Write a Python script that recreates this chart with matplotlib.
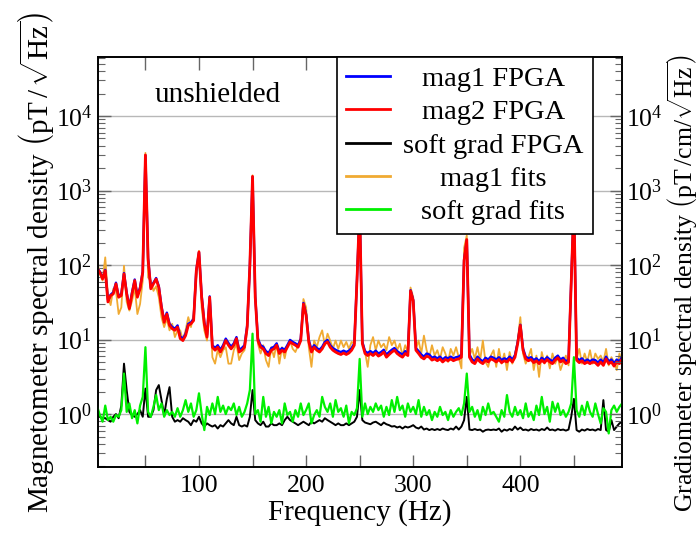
import numpy as np
import matplotlib
matplotlib.use("Agg")
import matplotlib.pyplot as plt
from matplotlib.ticker import LogLocator, MultipleLocator, FuncFormatter, NullFormatter

plt.rcParams['font.family'] = ['Liberation Serif', 'DejaVu Serif']
plt.rcParams['mathtext.fontset'] = 'custom'
plt.rcParams['mathtext.rm'] = 'Liberation Serif'
plt.rcParams['mathtext.it'] = 'Liberation Serif:italic'
plt.rcParams['mathtext.bf'] = 'Liberation Serif:bold'

# frequency bins (Hz), 2.5 Hz spacing
freq = np.arange(5.0, 495.1, 2.5)

# mag2 FPGA (pT/sqrt(Hz))
mag2_fpga = [
    88, 80, 65, 84, 32, 39, 41, 56, 37, 39, 76, 41, 26, 41, 62, 37, 48, 80, 3000, 120,
    48, 56, 65, 50, 27, 17, 22, 15.5, 14, 13.3, 14.7, 10.3, 9.7, 11.3, 15.5, 16.3, 18, 84, 150, 37,
    16.3, 10.8, 37, 7.9, 7.2, 7.9, 6.8, 7.9, 9.7, 8.4,
    7.5, 8.4, 10.3, 6.8, 7.2, 7.9, 14.7, 100, 1550, 37, 9.7, 7.9, 7.5, 6.5, 6.1, 7.2, 7.5, 8.4, 6.5, 7.2,
    6.8, 7.9, 9.3, 8.8, 8.4, 7.9, 9.7, 30, 21, 9.3, 6.8, 7.9, 7.2, 6.8, 7.5, 8.8, 9.3, 7.9, 7.2, 6.8,
    6.5, 6.3, 6.6, 6.3, 6.6, 7.2, 8.4, 62, 600,
    8.8, 6.5, 6.1, 6.5, 6.1, 6.6, 6.0, 6.3, 6.8, 5.8, 6.3, 6.8, 7.2, 6.5, 6.1, 5.8, 6.5, 6.1, 45, 33,
    7.2, 6.5, 5.8, 5.5, 6.0, 5.8, 5.3, 5.5, 5.2, 5.5, 5.0, 5.4, 5.2, 5.5, 5.2, 5.4, 5.5, 5.8, 115, 220,
    5.8, 5.0, 4.75, 5.5, 5.0, 4.75, 5.3, 5.0, 5.5,
    5.3, 5.0, 5.4, 4.9, 5.2, 5.0, 5.5, 5.0, 5.8, 8.8, 15.5, 7.2, 5.5, 5.2, 5.4, 4.9, 5.2, 4.75, 5.3, 4.9,
    5.4, 5.0, 4.75, 5.3, 5.7, 5.0, 5.3, 4.75, 5.0, 62, 700, 5.3, 4.9, 5.2, 4.75, 5.0, 4.75, 5.0, 4.9, 4.5,
    5.0, 4.5, 5.5, 4.75, 5.0, 4.4, 5.0, 4.75, 5.5,
]

# mag1 FPGA
mag1_fpga = [
    90, 82, 67, 86, 34, 40, 43, 58, 38, 41, 78, 43, 27, 43, 64, 39, 50, 82, 2950, 125,
    50, 58, 67, 52, 28, 18, 23, 16.3, 14.8, 14, 15.5, 11, 10.3, 12, 16.3, 17, 19, 86, 148, 39,
    17, 11.5, 38, 8.4, 7.7, 8.4, 7.3, 8.4, 10.3, 9,
    8, 8.9, 10.8, 7.3, 7.7, 8.4, 15.5, 98, 1520, 38, 10.3, 8.4, 8, 7, 6.6, 7.7, 8, 8.9, 7, 7.7,
    7.3, 8.4, 9.9, 9.3, 8.9, 8.4, 10.3, 31, 22, 9.9, 7.3, 8.4, 7.7, 7.3, 8, 9.3, 9.9, 8.4, 7.7, 7.3,
    7, 6.8, 7.1, 6.8, 7.1, 7.7, 8.9, 64, 590,
    9.3, 7, 6.6, 7, 6.6, 7.1, 6.5, 6.8, 7.3, 6.3, 6.8, 7.3, 7.7, 7, 6.6, 6.3, 7, 6.6, 46, 34,
    7.7, 7, 6.3, 5.9, 6.5, 6.3, 5.7, 5.9, 5.6, 5.9, 5.4, 5.8, 5.6, 5.9, 5.6, 5.8, 5.9, 6.3, 118, 215,
    6.3, 5.4, 5.1, 5.9, 5.4, 5.1, 5.7, 5.4, 5.9,
    5.7, 5.4, 5.8, 5.3, 5.6, 5.4, 5.9, 5.4, 6.2, 9.2, 15.8, 7.6, 5.9, 5.6, 5.8, 5.3, 5.6, 5.1, 5.7, 5.3,
    5.8, 5.4, 5.1, 5.7, 6.1, 5.4, 5.7, 5.1, 5.4, 63, 690, 5.7, 5.3, 5.6, 5.1, 5.4, 5.1, 5.4, 5.3, 4.9,
    5.4, 4.9, 5.9, 5.1, 5.4, 4.8, 5.4, 5.1, 5.9,
]

# mag1 fits
mag1_fits = [
    108, 76, 62, 127, 39, 29, 48, 45, 22, 27, 98, 32, 24.5, 33, 50, 22, 30, 62, 3200, 68,
    62, 45, 52, 37, 20, 14.7, 19, 13.3, 16.3, 10.8, 13.3, 13.3, 9.7, 13.3, 20, 14.7, 22, 68, 155, 27,
    13.3, 9.7, 35, 5.8, 4.75, 7.2, 5.8, 7.2, 7.9, 4.75,
    4.75, 7.2, 8.8, 5.3, 6.5, 7.2, 13.3, 93, 1600, 41, 8.8, 6.5, 8.4, 5.3, 4.3, 7.9, 5.8, 8.8, 4.75, 7.9,
    5.6, 8.4, 9.7, 7.5, 6.8, 8.4, 9.7, 35, 27, 7.9, 4.3, 9.7, 7.9, 10.8, 13.3, 8.4, 12, 9.7, 7.5, 9.7,
    7.5, 9.7, 7.9, 9.3, 7.5, 9.3, 8.8, 68, 650,
    9.7, 6.8, 4.3, 8.4, 10.8, 7.2, 9.7, 7.9, 8.8, 7.2, 10.8, 8.4, 9.7, 7.2, 8.8, 6.1, 8.4, 6.8, 50, 37,
    7.5, 9.7, 6.5, 11.3, 7.2, 5.8, 8.4, 6.1, 7.2, 5.5, 7.9, 6.5, 5.0, 7.5, 6.1, 7.9, 5.8, 4.1, 170, 250,
    6.1, 7.5, 5.5, 7.9, 5.3, 9.7, 5.0, 4.3, 6.1,
    7.2, 4.3, 7.5, 4.75, 6.5, 3.9, 6.8, 4.75, 6.1, 9.7, 20, 6.5, 4.75, 5.8, 7.5, 3.9, 6.1, 3.15, 6.8, 4.75,
    6.1, 4.1, 6.5, 4.75, 5.8, 3.9, 5.0, 6.1, 4.5, 62, 750, 5.5, 7.5, 4.75, 6.5, 5.0, 7.2, 4.75, 6.5, 5.5,
    6.1, 5.0, 7.5, 4.5, 5.8, 5.0, 3.9, 6.5, 4.75,
]

# soft grad FPGA (pT/cm/sqrt(Hz))
grad_fpga = [
    0.97, 0.92, 0.88, 0.88, 0.83, 0.79, 0.92, 1.0, 0.88, 1.3, 4.75, 2.1, 1.07, 0.97, 0.92, 1.0, 1.13, 0.92, 2.2, 0.92,
    0.92, 1.13, 2.1, 2.45, 1.54, 0.97, 1.6, 2.3, 0.92, 0.79, 0.83, 0.79, 0.88, 0.83, 0.79, 0.71, 0.83, 0.79, 0.92, 0.75,
    0.68, 0.75, 0.71, 0.68, 0.71, 0.64, 0.71, 0.68, 0.75, 0.83,
    0.75, 0.71, 0.92, 0.71, 0.68, 0.71, 0.68, 0.92, 2.1, 0.83, 0.75, 0.71, 0.79, 0.68, 0.68, 0.75, 0.71, 0.71, 0.75, 0.71,
    0.83, 0.92, 0.83, 0.79, 0.75, 0.71, 0.75, 0.79, 0.75, 0.71, 0.79, 0.75, 0.79, 0.83, 0.79, 0.88, 0.83, 0.79, 0.75, 0.71,
    0.75, 0.71, 0.71, 0.75, 0.71, 0.75, 0.79, 0.92, 2.1,
    0.83, 0.77, 0.75, 0.73, 0.77, 0.79, 0.75, 0.71, 0.77, 0.73, 0.71, 0.68, 0.69, 0.66, 0.68, 0.64, 0.68, 0.66, 0.68, 0.71,
    0.66, 0.64, 0.68, 0.62, 0.64, 0.61, 0.63, 0.61, 0.63, 0.61, 0.64, 0.62, 0.61, 0.64, 0.62, 0.68, 0.62, 0.68, 0.83, 1.7,
    0.62, 0.61, 0.63, 0.61, 0.62, 0.58, 0.61, 0.62, 0.61,
    0.62, 0.61, 0.64, 0.58, 0.62, 0.60, 0.63, 0.61, 0.68, 0.62, 0.66, 0.61, 0.62, 0.60, 0.63, 0.61, 0.62, 0.60, 0.63, 0.61,
    0.66, 0.61, 0.62, 0.60, 0.63, 0.61, 0.62, 0.60, 0.62, 0.92, 1.6, 0.61, 0.58, 0.62, 0.60, 0.63, 0.61, 0.62, 0.60, 0.63,
    0.61, 1.54, 0.61, 0.58, 0.83, 0.61, 0.68, 0.75, 0.79,
]

# soft grad fits
grad_fits = [
    1.25, 0.97, 0.79, 1.3, 0.83, 0.92, 0.79, 0.97, 0.92, 1.13, 3.5, 1.07, 1.39, 0.88, 1.13, 0.75, 1.3, 1.7, 7.9, 1.07,
    0.92, 1.25, 1.8, 1.13, 1.39, 0.92, 1.13, 0.97, 1.07, 0.92, 1.2, 0.92, 1.13, 1.54, 1.07, 1.39, 0.92, 1.13, 1.9, 1.0,
    0.61, 1.25, 0.97, 1.39, 1.0, 1.7, 1.07, 1.3, 1.0, 1.25,
    1.13, 1.39, 0.97, 1.25, 0.92, 1.07, 1.39, 2.1, 12, 1.0, 1.13, 0.79, 1.7, 0.92, 1.25, 0.75, 1.07, 0.92, 1.13, 0.75,
    1.39, 0.97, 1.07, 0.79, 1.13, 0.92, 1.39, 0.97, 1.13, 1.39, 0.75, 0.97, 1.13, 0.92, 1.7, 1.25, 1.07, 1.39, 0.92, 1.54,
    1.07, 1.2, 0.92, 1.3, 0.75, 1.07, 0.97, 1.2, 5.5,
    0.92, 1.39, 1.0, 1.25, 1.07, 1.39, 1.13, 1.3, 0.92, 1.25, 0.97, 1.54, 1.07, 1.7, 1.13, 1.3, 0.92, 1.39, 1.07, 1.25,
    1.0, 1.54, 0.92, 1.25, 0.97, 1.13, 0.83, 1.07, 0.92, 1.25, 0.97, 1.07, 0.83, 1.13, 0.92, 1.07, 1.2, 0.97, 1.39, 3.5,
    1.07, 1.25, 0.92, 1.13, 0.83, 1.25, 0.97, 1.39, 1.0,
    1.07, 0.92, 0.79, 1.13, 0.92, 1.8, 1.07, 0.92, 1.25, 0.97, 1.13, 0.88, 1.39, 0.92, 1.07, 0.83, 1.3, 0.97, 1.7, 1.0,
    1.25, 0.79, 1.46, 1.07, 1.39, 0.97, 1.13, 0.92, 1.07, 1.39, 5.8, 1.13, 0.92, 1.3, 0.97, 1.46, 1.07, 0.92, 1.39, 1.0,
    0.75, 1.2, 1.07, 0.55, 1.13, 1.3, 1.07, 1.25, 1.39,
]

labels = ["mag1 FPGA", "mag2 FPGA", "soft grad FPGA", "mag1 fits", "soft grad fits"]
y_ticklabels = [r"$10^{0}$", r"$10^{1}$", r"$10^{2}$", r"$10^{3}$", r"$10^{4}$"]

xlim = (5.6, 495)
ylim = (0.195, 6.2e4)

fig = plt.figure(figsize=(6.99, 5.55), dpi=100)
ax = fig.add_axes([0.140, 0.1586, 0.750, 0.7387])

l_orange, = ax.plot(freq, mag1_fits, color='#f0aa32', lw=1.3, zorder=2)
l_blue, = ax.plot(freq, mag1_fpga, color='#0000ff', lw=1.7, zorder=3)
l_red, = ax.plot(freq, mag2_fpga, color='#ff0000', lw=2.0, zorder=4)
l_black, = ax.plot(freq, grad_fpga, color='black', lw=1.4, zorder=5)
l_green, = ax.plot(freq, grad_fits, color='#00f000', lw=1.6, zorder=6)

ax.set_yscale('log')
ax.set_xlim(*xlim)
ax.set_ylim(*ylim)
ax.set_axisbelow(True)
ax.yaxis.grid(True, which='major', color='#b8b8b8', lw=1.0)

ax.xaxis.set_major_locator(MultipleLocator(50))
ax.xaxis.set_major_formatter(FuncFormatter(lambda v, p: f"{int(v)}" if v % 100 == 0 else ""))
ax.set_yticks([1, 10, 100, 1000, 10000])
ax.set_yticklabels(y_ticklabels)
ax.yaxis.set_minor_locator(LogLocator(base=10, subs=np.arange(2, 10)))
ax.yaxis.set_minor_formatter(NullFormatter())

tick_kw = dict(direction='in', color='#666666')
ax.tick_params(axis='x', which='major', top=True, length=9, width=1, labelsize=18.5, pad=6, **tick_kw)
ax.tick_params(axis='y', which='major', length=9, width=1, labelsize=18.5, pad=4, **tick_kw)
ax.tick_params(axis='y', which='minor', length=5, width=0.8, **tick_kw)

ax2 = ax.twinx()
ax2.set_yscale('log')
ax2.set_ylim(*ylim)
ax2.set_yticks([1, 10, 100, 1000, 10000])
ax2.set_yticklabels(y_ticklabels)
ax2.yaxis.set_minor_locator(LogLocator(base=10, subs=np.arange(2, 10)))
ax2.yaxis.set_minor_formatter(NullFormatter())
ax2.tick_params(axis='y', which='major', length=9, width=1, labelsize=18.5, pad=3, **tick_kw)
ax2.tick_params(axis='y', which='minor', length=5, width=0.8, **tick_kw)

for a in (ax, ax2):
    for s in a.spines.values():
        s.set_linewidth(1.2)

ax.set_xlabel("Frequency (Hz)", fontsize=21, labelpad=1)
ax.set_ylabel(r"Magnetometer spectral density $\left(\mathrm{pT}\,/\,\sqrt{\mathrm{Hz}}\right)$",
              fontsize=21, labelpad=0)
# right-hand label placed directly so it stays inside the figure
fig.text(682.5 / 699, 0.49,
         r"Gradiometer spectral density $\left(\mathrm{pT}\,/\mathrm{cm}/\sqrt{\mathrm{Hz}}\right)$",
         fontsize=18.5, rotation=90, ha='center', va='center')

ax.text(0.229, 0.907, "unshielded", transform=ax.transAxes, fontsize=21,
        ha='center', va='center')

leg = ax2.legend([l_blue, l_red, l_black, l_orange, l_green], labels,
                 loc='upper left', bbox_to_anchor=(0.456, 1.0), borderaxespad=0,
                 fontsize=20.5, frameon=True, fancybox=False, edgecolor='black',
                 framealpha=1, handlelength=1.55, handletextpad=0.45,
                 labelspacing=0.26, borderpad=0.32)
leg.get_frame().set_linewidth(1.2)
for h in leg.get_lines():
    h.set_linewidth(2)

# centre the legend texts in their column
fig.canvas.draw()
r = fig.canvas.get_renderer()
widths = [t.get_window_extent(r).width for t in leg.get_texts()]
wmax = max(widths)
for t, w in zip(leg.get_texts(), widths):
    t.set_position(((wmax - w) / 2, 0))

fig.savefig("out.png", dpi=100)
